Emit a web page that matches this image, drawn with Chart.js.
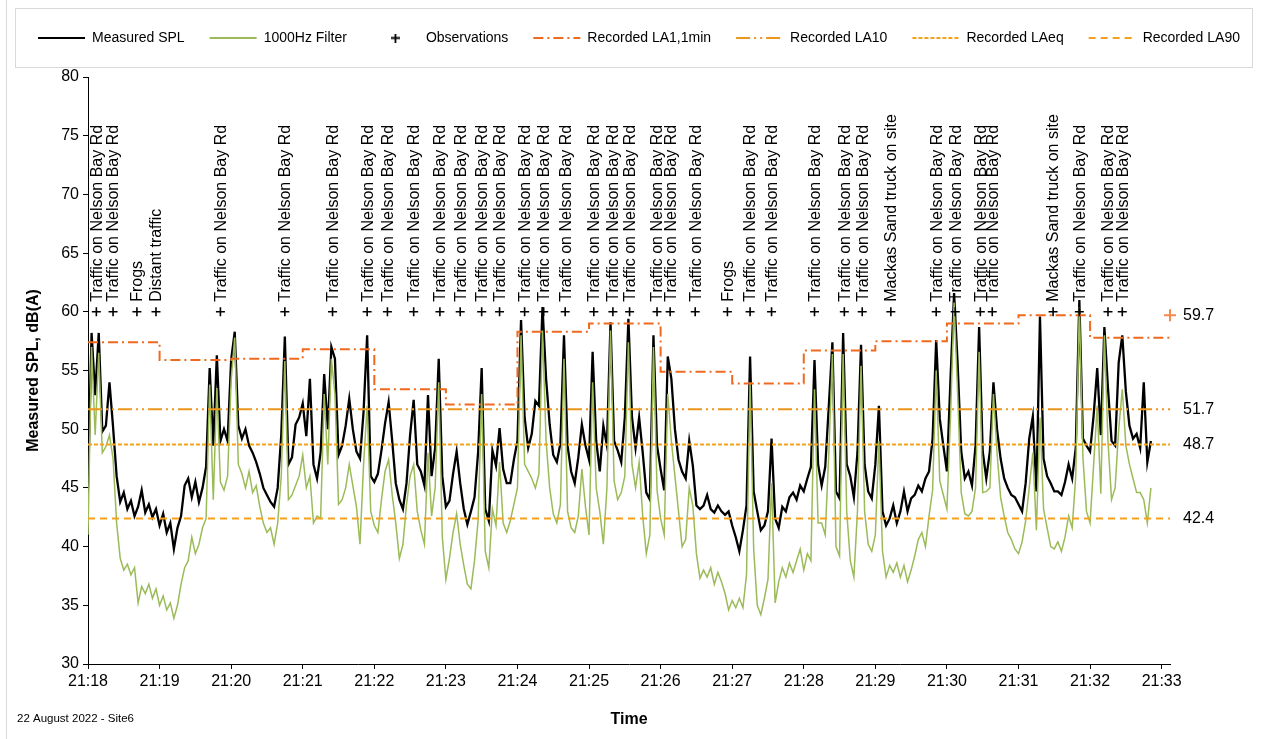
<!DOCTYPE html>
<html>
<head>
<meta charset="utf-8">
<title>Measured SPL - Site6</title>
<script src="https://cdn.jsdelivr.net/npm/chart.js@4.4.1/dist/chart.umd.min.js"></script>
<style>
  html, body { margin: 0; padding: 0; background: #fff; }
  canvas { display: block; }
</style>
</head>
<body>
<canvas id="splChart" width="1266" height="739"></canvas>
<script>
// Logged levels, one sample every 3 s from 21:18:00
const sampleStep = 3;
const startClock = '21:18:00';
const endSeconds = 907;

const measuredSpl = [
  // 21:18:00
  45.0, 58.2, 52.9, 58.2, 49.8, 50.3, 54.0, 50.2, 46.0, 43.8, 44.6, 43.2, 43.9, 42.6, 43.4, 44.8, 42.9, 43.6, 42.5, 43.2,
  41.8, 42.8, 41.2, 42.0, 39.8, 41.6, 42.6, 45.2, 45.8, 44.2, 45.5, 43.8, 45.0, 46.8, 55.2, 48.6, 56.3, 49.0, 50.0, 49.0,
  55.9, 58.3, 50.3, 49.2, 50.0, 48.6, 48.0, 47.2, 46.2,
  // 21:20:27
  45.0, 44.4, 43.8, 43.4, 45.0, 49.5, 57.9, 47.0, 47.6, 50.4, 51.0, 52.2, 49.4, 54.3, 47.0, 45.8, 48.0, 54.7, 50.0, 57.0,
  56.0, 47.8, 48.6, 50.3, 52.6, 50.0, 48.1, 47.5, 51.5, 58.0, 46.0, 45.5, 46.2, 48.2, 50.5, 52.3, 49.0, 45.4, 44.0, 43.2,
  45.4, 49.5, 52.5, 47.0, 46.4, 45.2, 52.9, 46.0, 48.4, 56.0, 46.0,
  // 21:23:00
  43.4, 43.9, 46.2, 48.1, 45.4, 43.2, 41.9, 43.0, 44.2, 48.0, 55.2, 43.2, 42.2, 48.2, 46.9, 50.1, 46.6, 45.4, 45.4, 47.4,
  49.0, 59.3, 51.0, 48.4, 49.6, 52.4, 52.0, 60.4, 54.3, 50.4, 47.8, 47.2, 48.8, 58.0, 48.6, 46.4, 45.4, 47.6, 50.4, 48.6,
  47.4, 56.6, 49.0, 46.4, 50.3, 48.6, 59.1, 49.0, 48.2,
  // 21:25:27
  47.2, 51.0, 59.4, 51.0, 48.4, 51.0, 48.0, 44.6, 44.0, 58.0, 48.6, 46.6, 44.8, 56.2, 54.3, 50.0, 47.4, 46.4, 45.8, 49.0,
  46.9, 43.5, 43.2, 43.5, 44.4, 43.2, 42.9, 43.5, 43.0, 42.7, 43.0, 41.8, 40.8, 39.6, 41.4, 43.5, 56.2, 44.7, 43.0, 41.4,
  41.8, 43.0, 49.2, 42.4, 41.6, 43.4, 43.0, 44.2, 44.6, 44.0, 45.2,
  // 21:28:00
  44.7, 45.8, 46.8, 55.9, 47.0, 45.2, 46.8, 52.0, 57.4, 44.7, 44.1, 58.2, 47.0, 46.0, 44.2, 48.0, 57.2, 47.0, 44.7, 44.1,
  47.0, 52.0, 43.0, 41.8, 42.4, 43.5, 42.0, 43.0, 44.7, 43.0, 44.1, 44.4, 45.2, 44.7, 45.8, 46.4, 49.2, 57.6, 50.9, 48.6,
  46.4, 54.3, 61.6, 55.5, 48.1, 45.8, 46.4, 45.2, 48.6, 58.7,
  // 21:30:30
  48.1, 45.8, 48.1, 54.0, 50.0, 47.5, 45.8, 45.0, 44.4, 44.2, 43.6, 43.0, 45.4, 49.2, 51.1, 44.7, 59.6, 47.5, 46.0, 45.4,
  44.7, 44.7, 44.4, 45.5, 47.0, 45.8, 48.4, 61.0, 49.2, 48.6, 48.1, 51.2, 55.2, 49.5, 58.7, 53.5, 49.0, 48.6, 55.7, 58.0,
  53.2, 50.3, 49.2, 49.6, 48.4, 54.0, 47.2, 49.0
];

const filter1000Hz = [
  // 21:18:00
  41.0, 57.0, 49.5, 56.5, 48.0, 48.5, 49.5, 47.5, 42.0, 39.0, 38.0, 38.5, 37.6, 38.2, 35.2, 36.6, 36.0, 36.8, 35.6, 36.4,
  35.0, 35.8, 34.6, 35.2, 33.9, 35.0, 36.8, 38.2, 38.8, 40.8, 39.4, 40.2, 41.6, 42.4, 53.8, 44.0, 53.5, 45.5, 44.8, 46.0,
  54.2, 57.8, 47.0, 46.2, 45.0, 46.4, 44.6, 45.2, 43.4,
  // 21:20:27
  42.0, 41.2, 41.6, 40.2, 42.0, 46.0, 55.8, 44.0, 44.4, 45.2, 46.0, 47.8, 45.0, 46.0, 42.0, 42.6, 42.4, 53.0, 47.0, 56.0,
  53.0, 43.6, 44.0, 45.0, 47.0, 45.2, 43.4, 40.2, 47.0, 52.0, 43.0, 41.8, 41.2, 44.0, 46.4, 47.4, 44.4, 42.0, 39.0, 40.2,
  43.6, 46.0, 47.0, 43.0, 41.4, 40.2, 48.0, 42.6, 45.0, 54.0, 40.8,
  // 21:23:00
  37.2, 39.0, 41.2, 42.8, 40.2, 38.4, 36.8, 36.4, 38.8, 42.2, 53.0, 39.6, 38.2, 43.2, 41.8, 47.2, 42.0, 41.2, 42.2, 43.6,
  45.0, 58.0, 47.0, 46.4, 45.8, 45.0, 46.2, 58.4, 49.0, 45.0, 42.8, 42.0, 43.6, 56.0, 43.0, 41.6, 41.2, 42.6, 46.6, 43.4,
  41.0, 54.0, 45.0, 43.0, 40.2, 45.0, 58.4, 45.6, 44.0,
  // 21:25:27
  44.6, 46.0, 57.4, 47.0, 45.0, 47.2, 42.6, 39.4, 41.0, 57.0, 44.8, 42.4, 41.0, 53.0, 49.0, 46.0, 43.0, 40.0, 40.6, 45.0,
  43.5, 39.4, 37.3, 38.0, 37.4, 38.2, 36.8, 37.8, 37.0, 36.0, 34.6, 35.4, 34.8, 35.6, 34.8, 37.6, 54.0, 39.8, 35.0, 34.2,
  35.6, 37.2, 45.4, 35.2, 37.0, 38.2, 37.4, 38.6, 37.8, 38.8, 39.8,
  // 21:28:00
  38.0, 39.4, 38.8, 53.4, 42.0, 42.0, 41.0, 48.0, 56.4, 40.0, 39.2, 56.4, 43.0, 38.8, 37.4, 43.0, 55.4, 43.0, 40.2, 39.6,
  41.0, 49.0, 39.6, 37.4, 38.4, 37.8, 38.6, 37.4, 38.4, 37.0, 38.0, 39.2, 40.6, 41.2, 40.0, 42.6, 44.8, 55.0, 45.6, 44.4,
  43.2, 51.0, 60.8, 53.0, 44.6, 42.8, 42.6, 43.0, 45.0, 56.6,
  // 21:30:30
  44.6, 44.7, 45.0, 53.0, 48.0, 44.2, 42.6, 41.2, 40.6, 39.8, 39.4, 40.4, 42.2, 45.0, 48.0, 41.4, 51.0, 43.2, 41.6, 40.0,
  39.8, 40.4, 39.6, 40.8, 42.6, 41.6, 46.0, 60.4, 47.6, 43.0, 42.0, 47.0, 52.0, 44.5, 58.0, 49.0, 44.0, 45.0, 50.0, 53.4,
  48.6, 47.0, 45.8, 44.6, 44.6, 44.0, 42.0, 45.0
];

// LA1 for each minute 21:18 ... 21:32
const la1Minutes = [57.4, 55.9, 56.0, 56.8, 53.4, 52.1, 58.3, 59.0, 54.9, 53.9, 56.7, 57.5, 59.0, 59.7, 57.8];
const la10 = 51.7;
const laEq = 48.7;
const la90 = 42.4;

// Field notes, plotted on the 60 dB line
const obsLevel = 60;
const obsTimes = [
  '21:18:07', '21:18:21', '21:18:41', '21:18:57', '21:19:51', '21:20:45', '21:21:25', '21:21:54',
  '21:22:11', '21:22:33', '21:22:55', '21:23:12', '21:23:30', '21:23:45', '21:24:06', '21:24:22',
  '21:24:40', '21:25:04', '21:25:20', '21:25:34', '21:25:57', '21:26:08', '21:26:29', '21:26:56',
  '21:27:15', '21:27:33', '21:28:09', '21:28:34', '21:28:49', '21:29:13', '21:29:51', '21:30:07',
  '21:30:28', '21:30:38', '21:31:29', '21:31:51', '21:32:15', '21:32:27'
];
const TRAFFIC = 'Traffic on Nelson Bay Rd';
const TRUCK = 'Mackas Sand truck on site';
const obsNotes = [
  TRAFFIC, TRAFFIC, 'Frogs', 'Distant traffic', TRAFFIC, TRAFFIC, TRAFFIC, TRAFFIC,
  TRAFFIC, TRAFFIC, TRAFFIC, TRAFFIC, TRAFFIC, TRAFFIC, TRAFFIC, TRAFFIC,
  TRAFFIC, TRAFFIC, TRAFFIC, TRAFFIC, TRAFFIC, TRAFFIC, TRAFFIC, 'Frogs',
  TRAFFIC, TRAFFIC, TRAFFIC, TRAFFIC, TRAFFIC, TRUCK, TRAFFIC, TRAFFIC,
  TRAFFIC, TRAFFIC, TRUCK, TRAFFIC, TRAFFIC, TRAFFIC
];

const timeTicks = ['21:18', '21:19', '21:20', '21:21', '21:22', '21:23', '21:24', '21:25',
  '21:26', '21:27', '21:28', '21:29', '21:30', '21:31', '21:32', '21:33'];

const FONT = "'Liberation Sans', Arial, sans-serif";
const LA1_COLOR = '#EF6A1F';
const LA10_COLOR = '#EC961D';
const LAEQ_COLOR = '#F5A11C';
const LA90_COLOR = '#F7A01B';

function toSeconds(clock) {
  const [h, m, s] = clock.split(':').map(Number);
  const [h0, m0, s0] = startClock.split(':').map(Number);
  return (h * 3600 + m * 60 + s) - (h0 * 3600 + m0 * 60 + s0);
}

const series = values => values.map((v, i) => ({ x: i * sampleStep, y: v }));
const flat = v => [{ x: 0, y: v }, { x: endSeconds, y: v }];

const la1Points = la1Minutes.map((v, i) => ({ x: i * 60, y: v }));
la1Points.push({ x: endSeconds, y: la1Minutes[la1Minutes.length - 1] });
const la1Max = Math.max(...la1Minutes);

// Right-hand value labels
const sideLabels = [la90, laEq, la10, la1Max];

// Small "+" used as the legend symbol for the observations
function plusGlyph(size, width, color) {
  const c = document.createElement('canvas');
  c.width = size;
  c.height = size;
  const g = c.getContext('2d');
  g.strokeStyle = color;
  g.lineWidth = width;
  g.beginPath();
  g.moveTo(size / 2, 0);
  g.lineTo(size / 2, size);
  g.moveTo(0, size / 2);
  g.lineTo(size, size / 2);
  g.stroke();
  return c;
}
const obsGlyph = plusGlyph(9, 1.8, '#000');

// Rotated note above each observation marker
const observationNotes = {
  id: 'observationNotes',
  afterDatasetsDraw(chart) {
    const { ctx, scales: { x, y } } = chart;
    ctx.save();
    ctx.font = '16px ' + FONT;
    ctx.fillStyle = '#000';
    ctx.textAlign = 'left';
    ctx.textBaseline = 'middle';
    obsTimes.forEach((clock, i) => {
      const px = x.getPixelForValue(toSeconds(clock));
      const py = y.getPixelForValue(obsLevel) - 10;
      ctx.save();
      ctx.translate(px, py);
      ctx.rotate(-Math.PI / 2);
      ctx.fillText(obsNotes[i], 0, 1);
      ctx.restore();
    });
    ctx.restore();
  }
};

// Legend frame, left rule and footer
const frame = {
  id: 'frame',
  afterDraw(chart) {
    const { ctx } = chart;
    ctx.save();
    ctx.strokeStyle = '#d9d9d9';
    ctx.lineWidth = 1;
    ctx.strokeRect(15.5, 8.5, 1237, 59);
    ctx.beginPath();
    ctx.moveTo(6.5, 0);
    ctx.lineTo(6.5, 739);
    ctx.stroke();
    ctx.fillStyle = '#000';
    ctx.font = '11.5px ' + FONT;
    ctx.textBaseline = 'middle';
    ctx.fillText('22 August 2022 - Site6', 17, 719);
    ctx.restore();
  }
};

// Give the legend the whole band above the plot, nudged slightly right
const legendBand = {
  id: 'legendBand',
  beforeInit(chart) {
    const fit = chart.legend.fit;
    chart.legend.fit = function () {
      fit.call(this);
      this.height = 71;
    };
  },
  afterLayout(chart) {
    chart.legend.left += 6;
    chart.legend.right += 6;
  }
};

const legendLabels = chart => {
  const items = Chart.defaults.plugins.legend.labels.generateLabels(chart);
  items.forEach(item => {
    const ds = chart.data.datasets[item.datasetIndex];
    if (ds.type === 'scatter') {
      item.pointStyle = obsGlyph;
      item.lineDash = [];
    } else {
      item.pointStyle = 'line';
      item.lineWidth = 2;
      item.lineDash = ds.borderDash || [];
    }
  });
  return items.sort((a, b) => a.datasetIndex - b.datasetIndex);
};

const lineSet = (label, data, color, width, dash, order) => ({
  label, data, borderColor: color, backgroundColor: color, borderWidth: width,
  borderDash: dash, pointRadius: 0, pointHoverRadius: 0, order
});

const la1Set = lineSet('Recorded LA1,1min', la1Points, LA1_COLOR, 2, [10, 4, 2, 4], 1);
la1Set.stepped = true;

new Chart(document.getElementById('splChart'), {
  type: 'line',
  data: {
    datasets: [
      lineSet('Measured SPL', series(measuredSpl), '#000000', 2.3, [], 6),
      lineSet('1000Hz Filter', series(filter1000Hz), '#9BBB59', 1.5, [], 5),
      {
        type: 'scatter', label: 'Observations',
        data: obsTimes.map(c => ({ x: toSeconds(c), y: obsLevel })),
        pointStyle: 'cross', pointRadius: 4.5, pointBorderWidth: 1.6,
        borderColor: '#000', backgroundColor: '#000', order: 0
      },
      la1Set,
      lineSet('Recorded LA10', flat(la10), LA10_COLOR, 2, [14, 4, 2, 4, 2, 4], 2),
      lineSet('Recorded LAeq', flat(laEq), LAEQ_COLOR, 2, [4, 2], 3),
      lineSet('Recorded LA90', flat(la90), LA90_COLOR, 2, [7, 5], 4),
      {
        type: 'scatter', label: '',
        data: [{ x: endSeconds, y: la1Max }],
        pointStyle: 'cross', pointRadius: 6, pointBorderWidth: 2,
        borderColor: '#F4894B', backgroundColor: '#F4894B', clip: false, order: 0
      }
    ]
  },
  options: {
    responsive: false,
    animation: false,
    events: [],
    layout: { padding: { top: 6, left: 0, right: 0, bottom: 0 } },
    plugins: {
      tooltip: { enabled: false },
      legend: {
        position: 'top',
        labels: {
          usePointStyle: true,
          pointStyleWidth: 47,
          boxHeight: 6,
          padding: 25,
          color: '#000',
          font: { family: FONT, size: 14 },
          filter: item => item.text !== '',
          generateLabels: legendLabels
        }
      }
    },
    scales: {
      x: {
        type: 'linear',
        min: 0,
        max: endSeconds,
        grid: { drawOnChartArea: false, drawTicks: true, tickLength: 5, color: '#000' },
        border: { color: '#000', width: 1 },
        ticks: {
          stepSize: 60,
          includeBounds: false,
          autoSkip: false,
          maxRotation: 0,
          padding: 3,
          color: '#000',
          font: { family: FONT, size: 16 },
          callback: v => (v % 60 === 0 ? timeTicks[v / 60] : '')
        },
        title: {
          display: true, text: 'Time', color: '#000',
          font: { family: FONT, size: 16, weight: 'bold' },
          padding: { top: 0, bottom: 10 }
        },
        afterFit: scale => { scale.height = 75; }
      },
      y: {
        min: 30,
        max: 80,
        grid: { drawOnChartArea: false, drawTicks: true, tickLength: 5, color: '#000' },
        border: { color: '#000', width: 1 },
        ticks: { stepSize: 5, padding: 4, color: '#000', font: { family: FONT, size: 16 } },
        title: {
          display: true, text: 'Measured SPL, dB(A)', color: '#000',
          font: { family: FONT, size: 16, weight: 'bold' },
          padding: { top: 24, bottom: 0 }
        },
        afterFit: scale => { scale.width = 88; }
      },
      y2: {
        position: 'right',
        min: 30,
        max: 80,
        grid: { display: false, drawTicks: false },
        border: { display: false },
        afterBuildTicks: scale => { scale.ticks = sideLabels.map(v => ({ value: v })); },
        ticks: {
          autoSkip: false,
          padding: 13,
          color: '#000',
          font: { family: FONT, size: 16 },
          callback: v => v.toFixed(1)
        },
        afterFit: scale => { scale.width = 96; }
      }
    }
  },
  plugins: [legendBand, observationNotes, frame]
});
</script>
</body>
</html>
